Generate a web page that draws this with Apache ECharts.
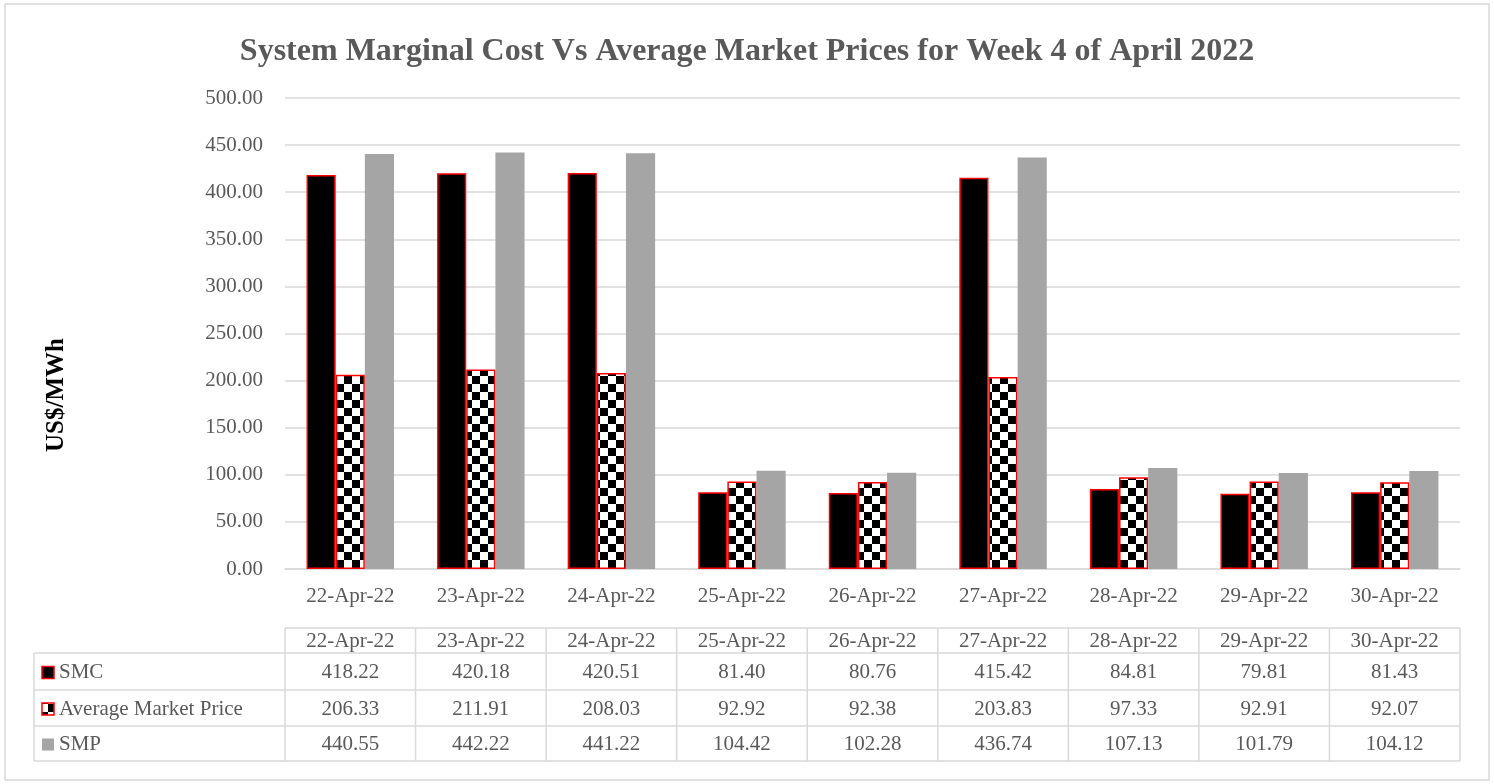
<!DOCTYPE html>
<html>
<head>
<meta charset="utf-8">
<script src="https://cdn.jsdelivr.net/npm/echarts@6/dist/echarts.min.js"></script>
<style>
  html, body { margin: 0; padding: 0; background: #fff; }
  #container { width: 1494px; height: 784px; }
</style>
</head>
<body>
<div id="container"></div>
<script>
const fechas = ["22-Apr-22", "23-Apr-22", "24-Apr-22", "25-Apr-22", "26-Apr-22", "27-Apr-22", "28-Apr-22", "29-Apr-22", "30-Apr-22"];
const smc = [418.22, 420.18, 420.51, 81.40, 80.76, 415.42, 84.81, 79.81, 81.43];
const precioMedio = [206.33, 211.91, 208.03, 92.92, 92.38, 203.83, 97.33, 92.91, 92.07];
const smp = [440.55, 442.22, 441.22, 104.42, 102.28, 436.74, 107.13, 101.79, 104.12];
const nombres = ["SMC", "Average Market Price", "SMP"];

const fuente = "Liberation Serif";
const gris = "#595959";
const linea = "#D9D9D9";
const tamTexto = 21;

/******** patron de cuadros (ajedrez) para el precio medio ********/
function cuadros(tam) {
  const c = document.createElement("canvas");
  c.width = tam * 2;
  c.height = tam * 2;
  const ctx = c.getContext("2d");
  ctx.fillStyle = "#fff";
  ctx.fillRect(0, 0, tam * 2, tam * 2);
  ctx.fillStyle = "#000";
  ctx.fillRect(0, 0, tam, tam);
  ctx.fillRect(tam, tam, tam, tam);
  return { image: c, repeat: "repeat" };
}
const patron = cuadros(8);

// medidas de la tabla de datos
const gridLeft = 285, gridRight = 34;
const tablaIzq = 34;
const anchoCol = (1494 - gridLeft - gridRight) / fechas.length;
const filas = [628, 653, 690, 726, 761];

function tabla() {
  const els = [];
  const x1 = gridLeft + anchoCol * fechas.length;
  const borde = { stroke: linea, lineWidth: 1.5 };
  // lineas horizontales
  els.push({ type: "line", shape: { x1: gridLeft, y1: filas[0], x2: x1, y2: filas[0] }, style: borde });
  for (let i = 1; i < filas.length; i++) {
    els.push({ type: "line", shape: { x1: tablaIzq, y1: filas[i], x2: x1, y2: filas[i] }, style: borde });
  }
  // lineas verticales
  els.push({ type: "line", shape: { x1: tablaIzq, y1: filas[1], x2: tablaIzq, y2: filas[4] }, style: borde });
  for (let j = 0; j <= fechas.length; j++) {
    const x = gridLeft + anchoCol * j;
    els.push({ type: "line", shape: { x1: x, y1: filas[0], x2: x, y2: filas[4] }, style: borde });
  }
  const txt = (x, y, s, align) => ({
    type: "text", x: x, y: y,
    style: { text: s, fill: gris, font: tamTexto + "px '" + fuente + "'", align: align || "center", verticalAlign: "middle" }
  });
  fechas.forEach((f, j) => {
    els.push(txt(gridLeft + anchoCol * (j + 0.5), (filas[0] + filas[1]) / 2 + 1, f));
  });
  const series = [smc, precioMedio, smp];
  series.forEach((vals, i) => {
    const yc = (filas[i + 1] + filas[i + 2]) / 2 + 1;
    vals.forEach((v, j) => {
      els.push(txt(gridLeft + anchoCol * (j + 0.5), yc, v.toFixed(2)));
    });
    // icono de la leyenda
    const icono = { type: "rect", shape: { x: 42, y: yc - 6, width: 12, height: 12 } };
    if (i === 0) icono.style = { fill: "#000", stroke: "#FF0000", lineWidth: 1.5 };
    if (i === 1) icono.style = { fill: patron, stroke: "#FF0000", lineWidth: 1.5 };
    if (i === 2) icono.style = { fill: "#A5A5A5" };
    els.push(icono);
    els.push(txt(59, yc, nombres[i], "left"));
  });
  // titulo del eje y
  els.push({
    type: "text", x: 57, y: 395, rotation: Math.PI / 2,
    style: { text: "US$/MWh", fill: "#000", font: "bold 25px '" + fuente + "'", align: "center", verticalAlign: "middle" }
  });
  // borde exterior
  els.push({ type: "rect", shape: { x: 5, y: 4, width: 1484, height: 776 }, style: { fill: "none", stroke: linea, lineWidth: 1.5 }, z: -1 });
  return els;
}

function grafica() {
  const dom = document.getElementById("container");
  const myChart = echarts.init(dom, null, { renderer: "canvas" });

  const option = {
    animation: false,
    backgroundColor: "#fff",
    title: {
      text: "System Marginal Cost Vs Average Market Prices for Week 4 of April 2022",
      left: "center",
      top: 31,
      textStyle: { fontFamily: fuente, fontSize: 32, fontWeight: "bold", color: gris }
    },
    grid: { left: gridLeft, right: gridRight, top: 98, bottom: 215, containLabel: false },
    xAxis: {
      type: "category",
      data: fechas,
      axisLine: { lineStyle: { color: linea, width: 1.5 } },
      axisTick: { show: false },
      axisLabel: { color: gris, fontFamily: fuente, fontSize: tamTexto, margin: 17 }
    },
    yAxis: {
      type: "value",
      min: 0,
      max: 500,
      interval: 50,
      axisLine: { show: false },
      axisTick: { show: false },
      axisLabel: { color: gris, fontFamily: fuente, fontSize: tamTexto, margin: 22, formatter: (v) => v.toFixed(2) },
      splitLine: { lineStyle: { color: linea, width: 1.5 } }
    },
    series: [
      {
        name: nombres[0], type: "bar", data: smc,
        barGap: "0%", barCategoryGap: "33%",
        itemStyle: { color: "#000", borderColor: "#FF0000", borderWidth: 1.5 }
      },
      {
        name: nombres[1], type: "bar", data: precioMedio,
        itemStyle: { color: patron, borderColor: "#FF0000", borderWidth: 1.5 }
      },
      {
        name: nombres[2], type: "bar", data: smp,
        itemStyle: { color: "#A5A5A5" }
      }
    ],
    graphic: tabla()
  };

  myChart.setOption(option);
  window.addEventListener("resize", myChart.resize);
}

grafica();
</script>
</body>
</html>
